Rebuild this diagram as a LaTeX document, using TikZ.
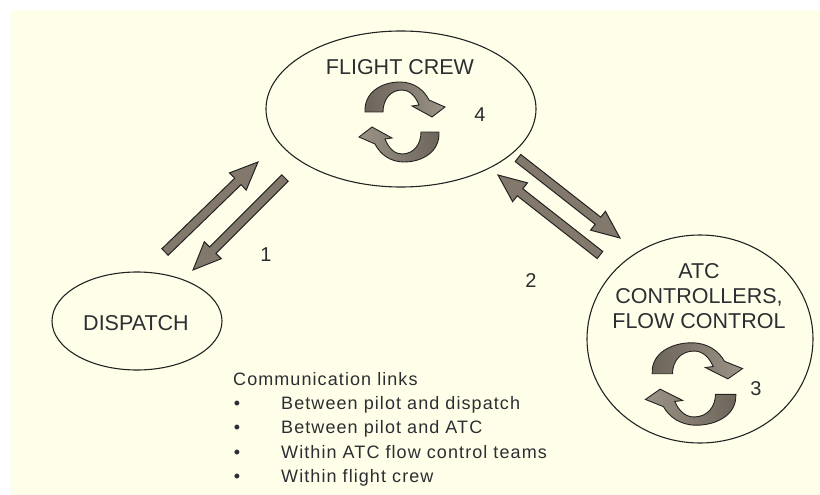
\documentclass[tikz,border=0pt]{standalone}
\usepackage{fontspec}
\setmainfont{Liberation Sans}
\newfontfamily\listfont[LetterSpace=6]{Liberation Sans}
\usetikzlibrary{shapes.geometric,calc}
\definecolor{bgcream}{RGB}{255,255,233}
\definecolor{arrowgray}{RGB}{130,120,108}
\definecolor{cycdark}{RGB}{108,100,90}
\definecolor{cyclight}{RGB}{156,147,134}
\definecolor{inkdark}{RGB}{35,35,35}
\definecolor{txt}{RGB}{45,45,50}
\tikzset{
  bubble/.style={draw=inkdark, line width=1.1pt, ellipse, inner sep=0pt},
  title/.style={font=\fontsize{21.5}{25.3}\selectfont, text=txt, inner sep=0pt},
  numlabel/.style={font=\fontsize{20}{24}\selectfont, text=txt, inner sep=0pt},
  listtext/.style={font=\listfont\fontsize{18}{24}\selectfont, text=txt, inner sep=0pt, anchor=base west},
  bulletmark/.style={font=\fontsize{18}{24}\selectfont, text=txt, inner sep=0pt, anchor=base},
  conn/.style={fill=arrowgray, draw=inkdark, line width=1pt, line join=miter},
  cycfill/.style={draw=inkdark, line width=0.9pt, line join=miter, left color=cycdark, right color=cyclight},
  cycfillrot/.style={draw=inkdark, line width=0.9pt, line join=miter, left color=cyclight, right color=cycdark},
  cycleicon/.pic={
    \path[cycfill] (-37,-10) .. controls (-38,-30) and (-20,-40) .. (-2,-40)
      .. controls (12,-40) and (22,-32) .. (27,-22) -- (43,-15) -- (30,-5) -- (10,-16) -- (17,-17)
      .. controls (13,-27) and (7,-32) .. (0,-32)
      .. controls (-12,-32) and (-19,-22) .. (-19,-10) -- cycle;
    \path[cycfillrot, rotate=180] (-37,-10) .. controls (-38,-30) and (-20,-40) .. (-2,-40)
      .. controls (12,-40) and (22,-32) .. (27,-22) -- (43,-15) -- (30,-5) -- (10,-16) -- (17,-17)
      .. controls (13,-27) and (7,-32) .. (0,-32)
      .. controls (-12,-32) and (-19,-22) .. (-19,-10) -- cycle;
  }
}
\newcommand{\fatarrow}[1]{%
  \coordinate (#1b) at ($(#1h)!28pt!(#1t)$);
  \draw[conn] ($(#1t)!4.5pt!90:(#1h)$) -- ($(#1b)!4.5pt!-90:(#1t)$) -- ($(#1b)!12pt!-90:(#1t)$)
    -- (#1h) -- ($(#1b)!12pt!90:(#1t)$) -- ($(#1b)!4.5pt!90:(#1t)$) -- ($(#1t)!4.5pt!-90:(#1h)$) -- cycle;}
\begin{document}
\begin{tikzpicture}[x=1pt,y=-1pt]
\useasboundingbox (0,0) rectangle (820,495);
\fill[white] (0,0) rectangle (820,495);
\fill[bgcream] (11,10) rectangle (820,495);

% bubbles
\node[bubble, minimum width=270pt, minimum height=156pt] (crew) at (401,109) {};
\node[bubble, minimum width=170pt, minimum height=98pt] (dispatch) at (137,321) {};
\node[bubble, minimum width=226pt, minimum height=208pt] (atc) at (700,339) {};

% labels
\node[title, anchor=base] (crewlabel) at (400,75) {FLIGHT CREW};
\node[title, anchor=base] (dispatchlabel) at (136,330) {DISPATCH};
\node[title, align=center] (atclabel) at (699,296.2) {ATC\\CONTROLLERS,\\FLOW CONTROL};

% cycle icons
\pic at (402,122) {cycleicon};
\pic[xscale=1.13, yscale=1.03] at (694,384) {cycleicon};

% numbers
\node[numlabel] (n1) at (266,255) {1};
\node[numlabel] (n2) at (531,281) {2};
\node[numlabel] (n3) at (756,389) {3};
\node[numlabel] (n4) at (480,115) {4};

% connector arrows
\coordinate (a1t) at (165,252); \coordinate (a1h) at (258,162);
\coordinate (a2t) at (285,178); \coordinate (a2h) at (193,270);
\coordinate (a3t) at (518,158); \coordinate (a3h) at (620,238);
\coordinate (a4t) at (600,255); \coordinate (a4h) at (498,175);
\fatarrow{a1}
\fatarrow{a2}
\fatarrow{a3}
\fatarrow{a4}

% list
\node[listtext] (lhead) at (233,385) {Communication links};
\node[bulletmark] (b1) at (237,409) {•};
\node[listtext] (l1) at (281,409) {Between pilot and dispatch};
\node[bulletmark] (b2) at (237,433.5) {•};
\node[listtext] (l2) at (281,433.5) {Between pilot and ATC};
\node[bulletmark] (b3) at (237,458) {•};
\node[listtext] (l3) at (281,458) {Within ATC flow control teams};
\node[bulletmark] (b4) at (237,482) {•};
\node[listtext] (l4) at (281,482) {Within flight crew};
\end{tikzpicture}
\end{document}
